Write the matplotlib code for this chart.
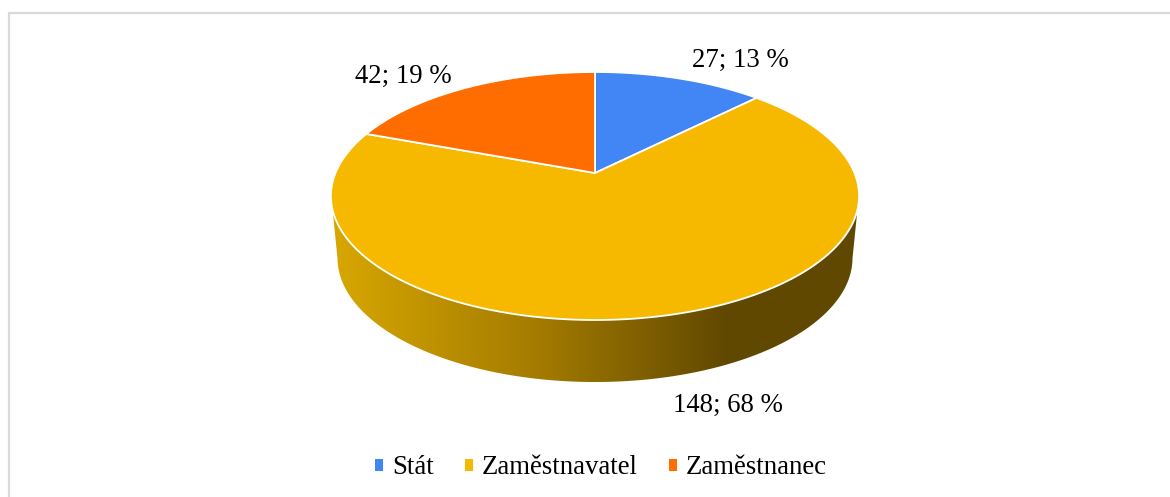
import numpy as np
import matplotlib
matplotlib.use("Agg")
import matplotlib.pyplot as plt
from matplotlib.colors import LinearSegmentedColormap
from matplotlib.patches import Patch, PathPatch, Polygon
from matplotlib.path import Path

categories = ["Stát", "Zaměstnavatel", "Zaměstnanec"]
values = [27, 148, 42]
labels = ["27; 13 %", "148; 68 %", "42; 19 %"]
colors = ["#4285F4", "#F7B900", "#FF6D00"]
label_xy = [(740, 60), (728, 405), (403, 76)]

plt.rcParams["font.family"] = ["Liberation Serif", "DejaVu Serif"]
W, H = 1170, 497
fig = plt.figure(figsize=(W / 100, H / 100), dpi=100)
ax = fig.add_axes([0, 0, 1, 1])
ax.set_xlim(0, W)
ax.set_ylim(H, 0)
ax.axis("off")

# perspective projection of the pie disc
CX, APEX, S, C, B = 595.0, 173.0, 259.5, 0.1855, -87.64
DEPTH, SHRINK = 62.0, 0.975


def proj(theta, dy=0.0, k=1.0):
    v = np.cos(theta)
    d = 1 + C * v
    return CX + k * S * np.sin(theta) / d, (APEX + B * v) / d + dy


# chart frame
ax.plot([9, 9, W], [H, 13, 13], color="#D9D9D9", lw=1.6, solid_joinstyle="miter")

# side wall with horizontal gradient
t = np.linspace(0, 2 * np.pi, 721)
tx, ty = proj(t)
bx, by = proj(t, DEPTH, SHRINK)
top_idx = np.where(ty >= 210)[0]
bot_idx = np.where(by >= 258)[0]


def ordered(x, y, idx):
    pts = np.column_stack([x[idx], y[idx]])
    return pts[np.argsort(pts[:, 0])]


wall = np.vstack([ordered(tx, ty, top_idx), ordered(bx, by, bot_idx)[::-1]])
cmap = LinearSegmentedColormap.from_list(
    "side",
    [(0.0, "#D8A700"), (0.40, "#A27A00"), (0.75, "#614800"), (1.0, "#614800")],
)
poly = Polygon(wall, closed=True, fc="none", ec="none")
ax.add_patch(poly)
grad = np.linspace(0, 1, 256).reshape(1, -1)
im = ax.imshow(grad, cmap=cmap, extent=(331, 860, 400, 190), aspect="auto", zorder=1)
im.set_clip_path(poly)
ax.set_xlim(0, W)
ax.set_ylim(H, 0)

# top wedges, starting at 12 o'clock, clockwise
start = 0.0
total = sum(values)
for val, col in zip(values, colors):
    end = start + val / total * 2 * np.pi
    a = np.linspace(start, end, 300)
    x, y = proj(a)
    verts = [(CX, APEX)] + list(zip(x, y)) + [(CX, APEX)]
    codes = [Path.MOVETO] + [Path.LINETO] * len(x) + [Path.CLOSEPOLY]
    ax.add_patch(PathPatch(Path(verts, codes), fc=col, ec="white", lw=1.3, zorder=2, joinstyle="round"))
    start = end

for txt, (lx, ly) in zip(labels, label_xy):
    ax.text(lx, ly, txt, fontsize=19.3, ha="center", va="center", color="#000000", zorder=3)

handles = [Patch(fc=c, ec="none", label=n) for c, n in zip(colors, categories)]
ax.legend(
    handles=handles, ncol=3, loc="center", bbox_to_anchor=(601, 468), bbox_transform=ax.transData,
    frameon=False, fontsize=19.3, handlelength=0.31, handleheight=0.31, handletextpad=0.33,
    columnspacing=1.15, labelcolor="#000000",
)
fig.savefig("out.png", dpi=100, facecolor="white")
